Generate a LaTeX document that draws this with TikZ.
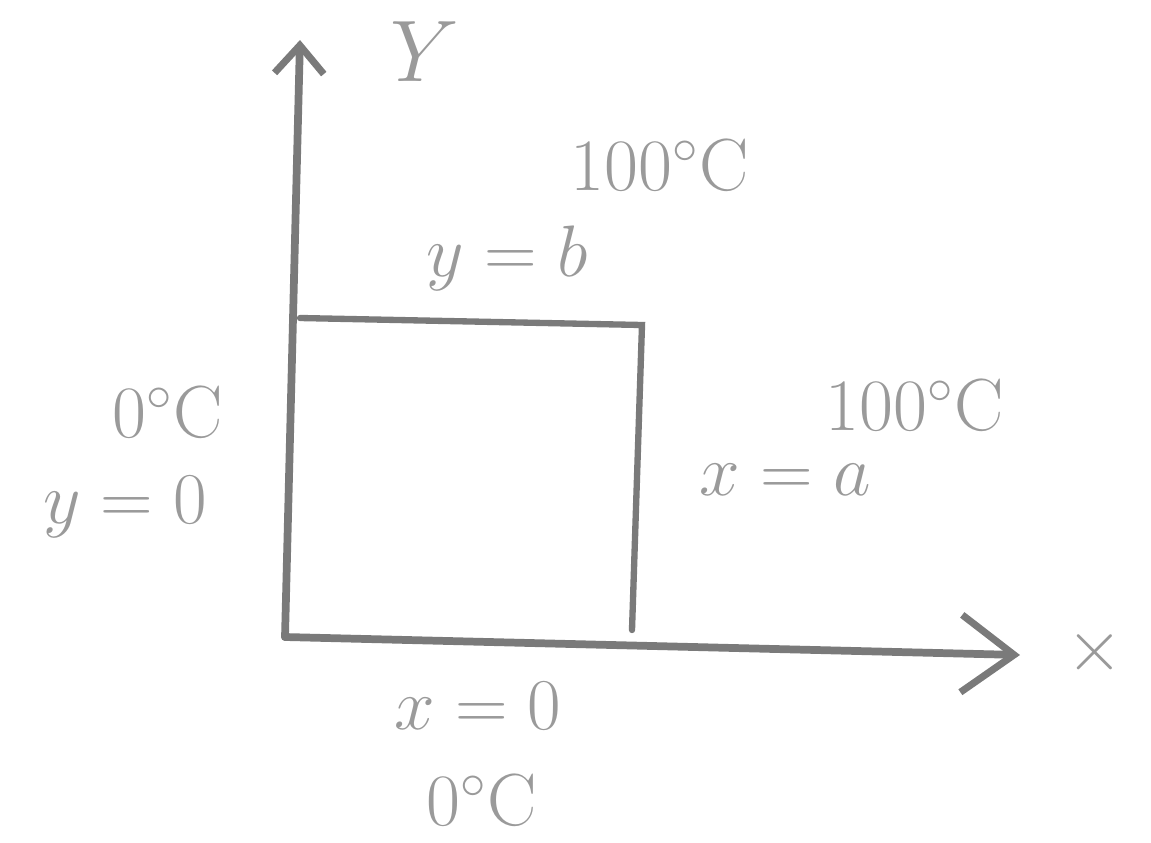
\documentclass[tikz,border=0pt]{standalone}
\usetikzlibrary{arrows.meta}
\definecolor{pencil}{HTML}{7A7A7A}
\definecolor{pencilt}{HTML}{9A9A9A}
\begin{document}
\begin{tikzpicture}[x=0.01cm,y=-0.01cm,
  axisline/.style={draw=pencil,line width=2.2pt,line cap=round},
  boxline/.style={draw=pencil,line width=1.8pt,line cap=round},
  lbl/.style={text=pencilt,font=\fontsize{21}{24}\selectfont,inner sep=0pt},
  yhead/.style={-{Straight Barb[length=8pt,width=14pt,line width=2pt]}},
  xhead/.style={-{Straight Barb[length=15pt,width=22pt,line width=2pt]}}]
\useasboundingbox (0,0) rectangle (1151,842);
% axes
\coordinate (o) at (285,637);
\coordinate (ytop) at (300,40);
\coordinate (xend) at (1020,655);
\draw[axisline,yhead] (o) -- (ytop);
\draw[axisline,xhead] (o) -- (xend);
% rectangle
\coordinate (tl) at (300,318);
\coordinate (tr) at (642,325);
\coordinate (br) at (632,630);
\draw[boxline] (tl) -- (tr) -- (br);
% labels
\node[lbl,font=\fontsize{26}{30}\selectfont] (ylab) at (425,52) {$Y$};
\node[lbl] (xlab) at (1095,652) {$\times$};
\node[lbl] (t1) at (660,165) {100$^\circ$C};
\node[lbl] (yb) at (507,258) {$y=b$};
\node[lbl] (t2) at (168,412) {0$^\circ$C};
\node[lbl] (y0) at (125,507) {$y=0$};
\node[lbl] (t3) at (915,405) {100$^\circ$C};
\node[lbl] (xa) at (785,480) {$x=a$};
\node[lbl] (x0) at (478,706) {$x=0$};
\node[lbl] (t4) at (482,800) {0$^\circ$C};
\end{tikzpicture}
\end{document}
